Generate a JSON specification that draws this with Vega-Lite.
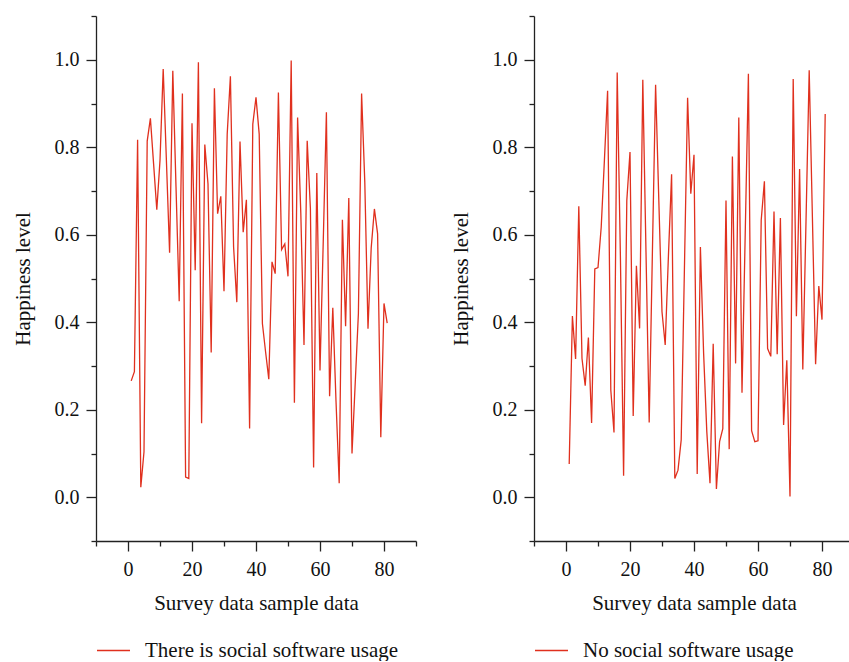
{
  "$schema": "https://vega.github.io/schema/vega-lite/v6.json",
  "background": "white",
  "padding": {"left": 12, "top": 15, "right": 0, "bottom": 0},
  "config": {
    "view": {"stroke": null},
    "font": "Liberation Serif",
    "axis": {
      "domainColor": "#222", "tickColor": "#222", "labelColor": "#111", "titleColor": "#111",
      "labelFont": "Liberation Serif", "titleFont": "Liberation Serif",
      "labelFontSize": 20, "titleFontSize": 21, "titleFontWeight": "normal",
      "grid": false, "domainWidth": 1.3, "tickWidth": 1.3, "labelFlush": false
    },
    "legend": {
      "orient": "bottom", "title": null, "symbolType": "stroke", "symbolSize": 1089,
      "symbolStrokeWidth": 1.3, "labelFontSize": 21, "labelFont": "Liberation Serif",
      "labelColor": "#111", "offset": 20, "labelOffset": 14, "labelLimit": 500
    }
  },
  "datasets": {
    "a": [
      {"sample":1,"happiness":0.266,"group":"There is social software usage"},
      {"sample":2,"happiness":0.287,"group":"There is social software usage"},
      {"sample":3,"happiness":0.817,"group":"There is social software usage"},
      {"sample":4,"happiness":0.023,"group":"There is social software usage"},
      {"sample":5,"happiness":0.104,"group":"There is social software usage"},
      {"sample":6,"happiness":0.814,"group":"There is social software usage"},
      {"sample":7,"happiness":0.866,"group":"There is social software usage"},
      {"sample":8,"happiness":0.762,"group":"There is social software usage"},
      {"sample":9,"happiness":0.657,"group":"There is social software usage"},
      {"sample":10,"happiness":0.77,"group":"There is social software usage"},
      {"sample":11,"happiness":0.979,"group":"There is social software usage"},
      {"sample":12,"happiness":0.77,"group":"There is social software usage"},
      {"sample":13,"happiness":0.559,"group":"There is social software usage"},
      {"sample":14,"happiness":0.975,"group":"There is social software usage"},
      {"sample":15,"happiness":0.71,"group":"There is social software usage"},
      {"sample":16,"happiness":0.448,"group":"There is social software usage"},
      {"sample":17,"happiness":0.923,"group":"There is social software usage"},
      {"sample":18,"happiness":0.046,"group":"There is social software usage"},
      {"sample":19,"happiness":0.043,"group":"There is social software usage"},
      {"sample":20,"happiness":0.855,"group":"There is social software usage"},
      {"sample":21,"happiness":0.519,"group":"There is social software usage"},
      {"sample":22,"happiness":0.994,"group":"There is social software usage"},
      {"sample":23,"happiness":0.169,"group":"There is social software usage"},
      {"sample":24,"happiness":0.806,"group":"There is social software usage"},
      {"sample":25,"happiness":0.716,"group":"There is social software usage"},
      {"sample":26,"happiness":0.331,"group":"There is social software usage"},
      {"sample":27,"happiness":0.935,"group":"There is social software usage"},
      {"sample":28,"happiness":0.648,"group":"There is social software usage"},
      {"sample":29,"happiness":0.688,"group":"There is social software usage"},
      {"sample":30,"happiness":0.471,"group":"There is social software usage"},
      {"sample":31,"happiness":0.830,"group":"There is social software usage"},
      {"sample":32,"happiness":0.962,"group":"There is social software usage"},
      {"sample":33,"happiness":0.572,"group":"There is social software usage"},
      {"sample":34,"happiness":0.446,"group":"There is social software usage"},
      {"sample":35,"happiness":0.813,"group":"There is social software usage"},
      {"sample":36,"happiness":0.606,"group":"There is social software usage"},
      {"sample":37,"happiness":0.680,"group":"There is social software usage"},
      {"sample":38,"happiness":0.157,"group":"There is social software usage"},
      {"sample":39,"happiness":0.853,"group":"There is social software usage"},
      {"sample":40,"happiness":0.914,"group":"There is social software usage"},
      {"sample":41,"happiness":0.830,"group":"There is social software usage"},
      {"sample":42,"happiness":0.397,"group":"There is social software usage"},
      {"sample":43,"happiness":0.332,"group":"There is social software usage"},
      {"sample":44,"happiness":0.270,"group":"There is social software usage"},
      {"sample":45,"happiness":0.538,"group":"There is social software usage"},
      {"sample":46,"happiness":0.511,"group":"There is social software usage"},
      {"sample":47,"happiness":0.925,"group":"There is social software usage"},
      {"sample":48,"happiness":0.566,"group":"There is social software usage"},
      {"sample":49,"happiness":0.579,"group":"There is social software usage"},
      {"sample":50,"happiness":0.505,"group":"There is social software usage"},
      {"sample":51,"happiness":0.998,"group":"There is social software usage"},
      {"sample":52,"happiness":0.216,"group":"There is social software usage"},
      {"sample":53,"happiness":0.868,"group":"There is social software usage"},
      {"sample":54,"happiness":0.65,"group":"There is social software usage"},
      {"sample":55,"happiness":0.348,"group":"There is social software usage"},
      {"sample":56,"happiness":0.815,"group":"There is social software usage"},
      {"sample":57,"happiness":0.66,"group":"There is social software usage"},
      {"sample":58,"happiness":0.068,"group":"There is social software usage"},
      {"sample":59,"happiness":0.741,"group":"There is social software usage"},
      {"sample":60,"happiness":0.290,"group":"There is social software usage"},
      {"sample":61,"happiness":0.58,"group":"There is social software usage"},
      {"sample":62,"happiness":0.880,"group":"There is social software usage"},
      {"sample":63,"happiness":0.231,"group":"There is social software usage"},
      {"sample":64,"happiness":0.433,"group":"There is social software usage"},
      {"sample":65,"happiness":0.22,"group":"There is social software usage"},
      {"sample":66,"happiness":0.032,"group":"There is social software usage"},
      {"sample":67,"happiness":0.634,"group":"There is social software usage"},
      {"sample":68,"happiness":0.391,"group":"There is social software usage"},
      {"sample":69,"happiness":0.684,"group":"There is social software usage"},
      {"sample":70,"happiness":0.100,"group":"There is social software usage"},
      {"sample":71,"happiness":0.26,"group":"There is social software usage"},
      {"sample":72,"happiness":0.420,"group":"There is social software usage"},
      {"sample":73,"happiness":0.923,"group":"There is social software usage"},
      {"sample":74,"happiness":0.72,"group":"There is social software usage"},
      {"sample":75,"happiness":0.385,"group":"There is social software usage"},
      {"sample":76,"happiness":0.57,"group":"There is social software usage"},
      {"sample":77,"happiness":0.659,"group":"There is social software usage"},
      {"sample":78,"happiness":0.602,"group":"There is social software usage"},
      {"sample":79,"happiness":0.137,"group":"There is social software usage"},
      {"sample":80,"happiness":0.443,"group":"There is social software usage"},
      {"sample":81,"happiness":0.398,"group":"There is social software usage"}
    ],
    "b": [
      {"sample":1,"happiness":0.076,"group":"No social software usage"},
      {"sample":2,"happiness":0.414,"group":"No social software usage"},
      {"sample":3,"happiness":0.316,"group":"No social software usage"},
      {"sample":4,"happiness":0.665,"group":"No social software usage"},
      {"sample":5,"happiness":0.317,"group":"No social software usage"},
      {"sample":6,"happiness":0.255,"group":"No social software usage"},
      {"sample":7,"happiness":0.365,"group":"No social software usage"},
      {"sample":8,"happiness":0.170,"group":"No social software usage"},
      {"sample":9,"happiness":0.522,"group":"No social software usage"},
      {"sample":10,"happiness":0.525,"group":"No social software usage"},
      {"sample":11,"happiness":0.617,"group":"No social software usage"},
      {"sample":12,"happiness":0.77,"group":"No social software usage"},
      {"sample":13,"happiness":0.929,"group":"No social software usage"},
      {"sample":14,"happiness":0.245,"group":"No social software usage"},
      {"sample":15,"happiness":0.148,"group":"No social software usage"},
      {"sample":16,"happiness":0.971,"group":"No social software usage"},
      {"sample":17,"happiness":0.55,"group":"No social software usage"},
      {"sample":18,"happiness":0.049,"group":"No social software usage"},
      {"sample":19,"happiness":0.678,"group":"No social software usage"},
      {"sample":20,"happiness":0.789,"group":"No social software usage"},
      {"sample":21,"happiness":0.186,"group":"No social software usage"},
      {"sample":22,"happiness":0.529,"group":"No social software usage"},
      {"sample":23,"happiness":0.386,"group":"No social software usage"},
      {"sample":24,"happiness":0.954,"group":"No social software usage"},
      {"sample":25,"happiness":0.56,"group":"No social software usage"},
      {"sample":26,"happiness":0.171,"group":"No social software usage"},
      {"sample":27,"happiness":0.56,"group":"No social software usage"},
      {"sample":28,"happiness":0.943,"group":"No social software usage"},
      {"sample":29,"happiness":0.68,"group":"No social software usage"},
      {"sample":30,"happiness":0.424,"group":"No social software usage"},
      {"sample":31,"happiness":0.348,"group":"No social software usage"},
      {"sample":32,"happiness":0.55,"group":"No social software usage"},
      {"sample":33,"happiness":0.738,"group":"No social software usage"},
      {"sample":34,"happiness":0.043,"group":"No social software usage"},
      {"sample":35,"happiness":0.062,"group":"No social software usage"},
      {"sample":36,"happiness":0.131,"group":"No social software usage"},
      {"sample":37,"happiness":0.52,"group":"No social software usage"},
      {"sample":38,"happiness":0.913,"group":"No social software usage"},
      {"sample":39,"happiness":0.694,"group":"No social software usage"},
      {"sample":40,"happiness":0.783,"group":"No social software usage"},
      {"sample":41,"happiness":0.053,"group":"No social software usage"},
      {"sample":42,"happiness":0.572,"group":"No social software usage"},
      {"sample":43,"happiness":0.33,"group":"No social software usage"},
      {"sample":44,"happiness":0.15,"group":"No social software usage"},
      {"sample":45,"happiness":0.032,"group":"No social software usage"},
      {"sample":46,"happiness":0.351,"group":"No social software usage"},
      {"sample":47,"happiness":0.019,"group":"No social software usage"},
      {"sample":48,"happiness":0.127,"group":"No social software usage"},
      {"sample":49,"happiness":0.157,"group":"No social software usage"},
      {"sample":50,"happiness":0.678,"group":"No social software usage"},
      {"sample":51,"happiness":0.110,"group":"No social software usage"},
      {"sample":52,"happiness":0.779,"group":"No social software usage"},
      {"sample":53,"happiness":0.306,"group":"No social software usage"},
      {"sample":54,"happiness":0.868,"group":"No social software usage"},
      {"sample":55,"happiness":0.239,"group":"No social software usage"},
      {"sample":56,"happiness":0.6,"group":"No social software usage"},
      {"sample":57,"happiness":0.968,"group":"No social software usage"},
      {"sample":58,"happiness":0.152,"group":"No social software usage"},
      {"sample":59,"happiness":0.127,"group":"No social software usage"},
      {"sample":60,"happiness":0.129,"group":"No social software usage"},
      {"sample":61,"happiness":0.633,"group":"No social software usage"},
      {"sample":62,"happiness":0.722,"group":"No social software usage"},
      {"sample":63,"happiness":0.340,"group":"No social software usage"},
      {"sample":64,"happiness":0.322,"group":"No social software usage"},
      {"sample":65,"happiness":0.653,"group":"No social software usage"},
      {"sample":66,"happiness":0.327,"group":"No social software usage"},
      {"sample":67,"happiness":0.638,"group":"No social software usage"},
      {"sample":68,"happiness":0.165,"group":"No social software usage"},
      {"sample":69,"happiness":0.313,"group":"No social software usage"},
      {"sample":70,"happiness":0.002,"group":"No social software usage"},
      {"sample":71,"happiness":0.956,"group":"No social software usage"},
      {"sample":72,"happiness":0.414,"group":"No social software usage"},
      {"sample":73,"happiness":0.750,"group":"No social software usage"},
      {"sample":74,"happiness":0.292,"group":"No social software usage"},
      {"sample":75,"happiness":0.63,"group":"No social software usage"},
      {"sample":76,"happiness":0.976,"group":"No social software usage"},
      {"sample":77,"happiness":0.64,"group":"No social software usage"},
      {"sample":78,"happiness":0.304,"group":"No social software usage"},
      {"sample":79,"happiness":0.483,"group":"No social software usage"},
      {"sample":80,"happiness":0.406,"group":"No social software usage"},
      {"sample":81,"happiness":0.876,"group":"No social software usage"}
    ]
  },
  "spacing": 118,
  "bounds": "flush",
  "resolve": {
    "scale": {"color": "independent", "x": "independent", "y": "independent"},
    "legend": {"color": "independent"}
  },
  "hconcat": [
    {
      "width": 320, "height": 525,
      "data": {"name": "a"},
      "mark": {"type": "line", "strokeWidth": 1.3},
      "encoding": {
        "x": {"field": "sample", "type": "quantitative",
          "scale": {"domain": [-10, 90], "nice": false, "zero": false},
          "axis": {"title": "Survey data sample data",
            "values": [-10, 0, 10, 20, 30, 40, 50, 60, 70, 80, 90],
            "labelExpr": "datum.value % 20 === 0 ? datum.label : ''",
            "tickSize": {"condition": {"test": "datum.value % 20 === 0", "value": 10}, "value": 5},
            "labelPadding": 8, "titlePadding": 13}},
        "y": {"field": "happiness", "type": "quantitative",
          "scale": {"domain": [-0.1, 1.1], "nice": false, "zero": false},
          "axis": {"title": "Happiness level",
            "values": [-0.1, 0, 0.1, 0.2, 0.3, 0.4, 0.5, 0.6, 0.7, 0.8, 0.9, 1.0, 1.1],
            "format": ".1f",
            "labelExpr": "round(datum.value * 10) % 2 === 0 ? datum.label : ''",
            "tickSize": {"condition": {"test": "round(datum.value * 10) % 2 === 0", "value": 10}, "value": 5},
            "labelPadding": 7, "titlePadding": 21}},
        "color": {"field": "group", "type": "nominal", "scale": {"range": ["#e0301e"]}}
      }
    },
    {
      "width": 320, "height": 525,
      "data": {"name": "b"},
      "mark": {"type": "line", "strokeWidth": 1.3},
      "encoding": {
        "x": {"field": "sample", "type": "quantitative",
          "scale": {"domain": [-10, 90], "nice": false, "zero": false},
          "axis": {"title": "Survey data sample data",
            "values": [-10, 0, 10, 20, 30, 40, 50, 60, 70, 80, 90],
            "labelExpr": "datum.value % 20 === 0 ? datum.label : ''",
            "tickSize": {"condition": {"test": "datum.value % 20 === 0", "value": 10}, "value": 5},
            "labelPadding": 8, "titlePadding": 13}},
        "y": {"field": "happiness", "type": "quantitative",
          "scale": {"domain": [-0.1, 1.1], "nice": false, "zero": false},
          "axis": {"title": "Happiness level",
            "values": [-0.1, 0, 0.1, 0.2, 0.3, 0.4, 0.5, 0.6, 0.7, 0.8, 0.9, 1.0, 1.1],
            "format": ".1f",
            "labelExpr": "round(datum.value * 10) % 2 === 0 ? datum.label : ''",
            "tickSize": {"condition": {"test": "round(datum.value * 10) % 2 === 0", "value": 10}, "value": 5},
            "labelPadding": 7, "titlePadding": 21}},
        "color": {"field": "group", "type": "nominal", "scale": {"range": ["#e0301e"]}}
      }
    }
  ]
}
